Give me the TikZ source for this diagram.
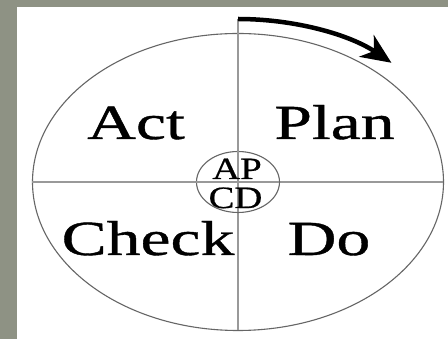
\documentclass[tikz,border=0pt]{standalone}
\usepackage{fontspec}
\usetikzlibrary{arrows.meta}
\newfontfamily\pdcabig[FakeStretch=1.38,FakeBold=0.8]{Liberation Serif}
\newfontfamily\pdcasmall[FakeStretch=1.25,FakeBold=0.6]{Liberation Serif}
\definecolor{slidegray}{RGB}{142,146,132}
\tikzset{
  phase/.style={anchor=base,inner sep=0pt,font=\pdcabig\fontsize{49}{49}\selectfont},
  mini/.style={anchor=base,inner sep=0pt,font=\pdcasmall\fontsize{31}{31}\selectfont},
  rim/.style={black!60,line width=1.1pt},
  axis/.style={black!40,line width=1.5pt}
}
\begin{document}
\begin{tikzpicture}[x=1pt,y=1pt]
    \useasboundingbox (-238,-157) rectangle (210,182);
    \fill[slidegray] (-238,-157) rectangle (210,182);
    \fill[white] (-221,-157) rectangle (210,175);
    \draw[rim] (0,0) ellipse (205.5 and 148.5);
    \draw[axis] (-205.5,0) -- (205.5,0);
    \draw[axis] (0,163) -- (0,-148.5);
    \draw[rim,fill=white] (0,0) ellipse (41.5 and 30.5);
    \draw[axis] (-41.5,0) -- (41.5,0);
    \draw[axis] (0,30.5) -- (0,-30.5);
    \draw[line width=4.5pt,-{Stealth[length=30pt,width=26pt,inset=9pt]}]
      (0,163) arc (90:47:225 and 163);
    \node[phase] (act) at (-102,43) {Act};
    \node[phase] (plan) at (96.5,43) {Plan};
    \node[phase] (check) at (-90,-73) {Check};
    \node[phase] (do) at (91,-73) {Do};
    \node[mini] (ap) at (-1,3) {AP};
    \node[mini] (cd) at (-2.5,-26) {CD};
\end{tikzpicture}
\end{document}
